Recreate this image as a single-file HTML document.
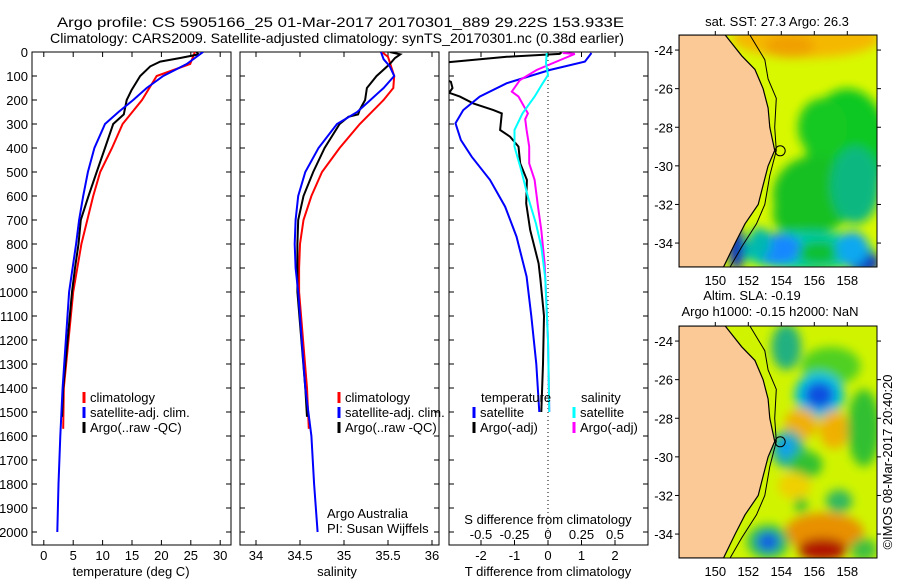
<!DOCTYPE html>
<html><head><meta charset="utf-8"><style>
html,body{margin:0;padding:0;background:#fff;}
svg{display:block;font-family:"Liberation Sans",Arial,sans-serif;}
</style></head><body>
<svg id="fig" width="900" height="580" viewBox="0 0 900 580" xmlns="http://www.w3.org/2000/svg">
<defs>
<clipPath id="c1"><rect x="32" y="52" width="199" height="493"/></clipPath>
<clipPath id="c2"><rect x="240" y="52" width="199" height="493"/></clipPath>
<clipPath id="c3"><rect x="449" y="52" width="199" height="493"/></clipPath>
<clipPath id="cm1"><rect x="679" y="35" width="198" height="232"/></clipPath>
<clipPath id="cm2"><rect x="679" y="326" width="198" height="232"/></clipPath>
<filter id="blur" x="-20%" y="-20%" width="140%" height="140%"><feGaussianBlur stdDeviation="5"/></filter>
</defs>
<text x="57" y="27" font-size="14" textLength="567" lengthAdjust="spacingAndGlyphs">Argo profile: CS 5905166_25 01-Mar-2017 20170301_889 29.22S 153.933E</text>
<text x="50" y="43" font-size="14" textLength="574" lengthAdjust="spacingAndGlyphs">Climatology: CARS2009. Satellite-adjusted climatology: synTS_20170301.nc (0.38d earlier)</text>
<g id="g1"></g>
<g id="g2"></g>
<g id="g3"></g>
<g id="m1"></g>
<g id="m2"></g>
<text x="777" y="26" font-size="13" text-anchor="middle">sat. SST: 27.3 Argo: 26.3</text>
<text x="752" y="300" font-size="13" text-anchor="middle">Altim. SLA: -0.19</text>
<text x="770" y="316" font-size="13" text-anchor="middle">Argo h1000: -0.15 h2000: NaN</text>
<text transform="translate(892,462) rotate(-90)" font-size="13" text-anchor="middle">©IMOS 08-Mar-2017 20:40:20</text>
<text x="327" y="518" font-size="13">Argo Australia</text>
<text x="327" y="533" font-size="13">PI: Susan Wijffels</text>
</svg>
<script>
// ---- data ----
const tClimDepth=[0,50,100,200,300,400,500,600,700,800,900,1000,1400,1570];
const tClimVal=[25.7,24.9,19.2,16.7,13.4,11.6,9.6,8.4,7.4,6.4,5.7,5.0,3.4,3.3];
const tSatDepth=[0,50,100,150,200,250,300,400,500,600,700,800,900,1000,1400,1600,1800,2000];
const tSatVal=[27.1,24.3,20.3,17.5,15.2,12.7,10.4,8.6,7.5,6.7,6.0,5.5,4.9,4.3,3.2,2.8,2.5,2.3];
const tArgoDepth=[0,10,25,40,60,100,160,200,260,300,400,500,600,700,800,900,1000,1400,1520];
const tArgoVal=[26.0,26.3,23.2,19.8,18.1,16.4,14.9,14.1,13.6,11.8,10.4,9.0,7.6,6.3,5.9,5.3,4.8,3.3,3.1];
const sClimDepth=[0,20,100,150,200,300,400,500,600,700,800,900,1000,1400,1570];
const sClimVal=[35.43,35.5,35.57,35.56,35.45,35.18,34.95,34.75,34.63,34.54,34.50,34.49,34.49,34.58,34.6];
const sSatDepth=[0,30,60,100,150,200,250,300,400,500,600,700,800,900,1000,1400,1600,1800,2000];
const sSatVal=[35.42,35.45,35.52,35.57,35.45,35.30,35.15,34.92,34.71,34.56,34.48,34.45,34.44,34.45,34.48,34.56,34.63,34.66,34.7];
const sArgoDepth=[0,10,25,50,100,150,200,240,260,270,300,400,500,600,700,800,900,1000,1400,1520];
const sArgoVal=[35.52,35.64,35.58,35.52,35.37,35.26,35.24,35.18,35.16,35.05,34.95,34.78,34.65,34.54,34.48,34.47,34.47,34.47,34.56,34.58];
const dtSatDepth=[4,40,75,130,186,242,297,367,436,533,644,769,936,1100,1300,1500];
const dtSatVal=[1.3,1.1,0.05,-1.23,-2.04,-2.53,-2.76,-2.6,-2.28,-1.73,-1.28,-0.94,-0.64,-0.5,-0.35,-0.26];
const dtArgoDepth=[2,8,20,42,80,124,150,170,186,214,242,256,325,353,394,464,533,631,742,881,943,1100,1300,1500];
const dtArgoVal=[0.4,0.35,-1.23,-2.95,-3.6,-2.9,-2.85,-2.95,-2.63,-2.23,-1.63,-1.38,-1.43,-1.13,-0.88,-0.83,-0.63,-0.65,-0.53,-0.28,-0.23,-0.12,-0.15,-0.2];
const dsSatDepth=[4,47,96,131,186,256,325,394,492,603,714,811,943,1200,1500];
const dsSatVal=[-0.01,-0.015,0,-0.04,-0.1,-0.19,-0.25,-0.25,-0.2,-0.15,-0.09,-0.05,-0.02,0,0.01];
const dsArgoDepth=[4,8,29,75,117,165,186,256,280,325,394,464,533,644,742,881,943,1200,1500];
const dsArgoVal=[0.11,0.2,0.11,-0.085,-0.21,-0.27,-0.22,-0.15,-0.17,-0.16,-0.14,-0.14,-0.1,-0.075,-0.05,-0.025,-0.02,0,0.01];
const depthTicks=[0,100,200,300,400,500,600,700,800,900,1000,1100,1200,1300,1400,1500,1600,1700,1800,1900,2000];
const tTicks=[0,5,10,15,20,25,30];
const sTicks=[34,34.5,35,35.5,36];
const sTickLabels=["34","34.5","35","35.5","36"];
const dTTicks=[-2,-1,0,1,2];
const dSTicks=[-0.5,-0.25,0,0.25,0.5];
const dSTickLabels=["-0.5","-0.25","0","0.25","0.5"];
const lonTicks=[150,152,154,156,158];
const latTicks=[-24,-26,-28,-30,-32,-34];
// ---- scales ----
const NS="http://www.w3.org/2000/svg";
const yD=d=>52+d*0.24;
const xTemp=v=>43.8+v*5.88;
const xSal=v=>256+(v-34)*88;
const xDT=v=>548+v*33.5;
const xDS=v=>548+v*134;
function mk(tag,attrs,parent){const e=document.createElementNS(NS,tag);for(const k in attrs)e.setAttribute(k,attrs[k]);parent.appendChild(e);return e;}
function txt(s,attrs,parent){const e=mk('text',attrs,parent);e.textContent=s;return e;}
function line(depths,vals,xf,color,parent,clip){
  let d='';depths.forEach((dp,i)=>{d+=(i?'L':'M')+xf(vals[i]).toFixed(1)+','+yD(dp).toFixed(1);});
  return mk('path',{d:d,fill:'none',stroke:color,'stroke-width':2,'clip-path':'url(#'+clip+')'},parent);
}
function frame(g,x0,name){
  const r=mk('rect',{x:x0,y:52,width:199,height:493,fill:'#fff',stroke:'#000','stroke-width':1},g);
  
  
  depthTicks.forEach(d=>{
    const t1=mk('line',{x1:x0,x2:x0+5,y1:yD(d),y2:yD(d),stroke:'#000'},g);
    
    
    const t2=mk('line',{x1:x0+199-5,x2:x0+199,y1:yD(d),y2:yD(d),stroke:'#000'},g);
    
    
  });
}
function xticks(g,vals,labels,xf,ly){
  vals.forEach((v,i)=>{
    const x=xf(v);
    const a=mk('line',{x1:x,x2:x,y1:52,y2:57,stroke:'#000'},g);
    
    
    const b=mk('line',{x1:x,x2:x,y1:540,y2:545,stroke:'#000'},g);
    
    
    if(labels){const t=txt(labels[i],{x:x,y:ly,'font-size':13,'text-anchor':'middle'},g);
    
    }
  });
}
function legend(g,x,y,color,label){
  const b=mk('line',{x1:x,x2:x,y1:y-10,y2:y+1,stroke:color,'stroke-width':3},g);
  
  
  const t=txt(label,{x:x+6,y:y,'font-size':13},g);
  
  
}
// ---- panel 1 ----
const g1=document.getElementById('g1');
frame(g1,32,'temperature-panel');
depthTicks.forEach(d=>{const t=txt(String(d),{x:28,y:yD(d)+5,'font-size':13,'text-anchor':'end'},g1);

});
xticks(g1,tTicks,tTicks.map(String),xTemp,560);
let p;
p=line(tClimDepth,tClimVal,xTemp,'#ff0000',g1,'c1');


p=line(tArgoDepth,tArgoVal,xTemp,'#000000',g1,'c1');


p=line(tSatDepth,tSatVal,xTemp,'#0000ff',g1,'c1');


legend(g1,84,402,'#ff0000','climatology');
legend(g1,84,417,'#0000ff','satellite-adj. clim.');
legend(g1,84,432,'#000000','Argo(..raw -QC)');
p=txt('temperature (deg C)',{x:131,y:576,'font-size':13,'text-anchor':'middle'},g1);


// ---- panel 2 ----
const g2=document.getElementById('g2');
frame(g2,240,'salinity-panel');
xticks(g2,sTicks,sTickLabels,xSal,560);
p=line(sClimDepth,sClimVal,xSal,'#ff0000',g2,'c2');


p=line(sArgoDepth,sArgoVal,xSal,'#000000',g2,'c2');


p=line(sSatDepth,sSatVal,xSal,'#0000ff',g2,'c2');


legend(g2,339,402,'#ff0000','climatology');
legend(g2,339,417,'#0000ff','satellite-adj. clim.');
legend(g2,339,432,'#000000','Argo(..raw -QC)');
p=txt('salinity',{x:337,y:576,'font-size':13,'text-anchor':'middle'},g2);


// ---- panel 3 ----
const g3=document.getElementById('g3');
frame(g3,449,'difference-panel');
p=mk('line',{x1:xDT(0),x2:xDT(0),y1:52,y2:545,stroke:'#000','stroke-dasharray':'1,3'},g3);


xticks(g3,dTTicks,dTTicks.map(String),xDT,560);
dSTicks.forEach((v,i)=>{const t=txt(dSTickLabels[i],{x:xDS(v),y:539,'font-size':13,'text-anchor':'middle'},g3);

});
p=txt('S difference from climatology',{x:548,y:524,'font-size':13,'text-anchor':'middle'},g3);


p=line(dtArgoDepth,dtArgoVal,xDT,'#000000',g3,'c3');


p=line(dtSatDepth,dtSatVal,xDT,'#0000ff',g3,'c3');


p=line(dsArgoDepth,dsArgoVal,xDS,'#ff00ff',g3,'c3');


p=line(dsSatDepth,dsSatVal,xDS,'#00ffff',g3,'c3');


p=txt('temperature',{x:481,y:402,'font-size':13},g3);


p=txt('salinity',{x:581,y:402,'font-size':13},g3);


legend(g3,474,417,'#0000ff','satellite');
legend(g3,474,432,'#000000','Argo(-adj)');
legend(g3,574,417,'#00ffff','satellite');
legend(g3,574,432,'#ff00ff','Argo(-adj)');
p=txt('T difference from climatology',{x:548,y:576,'font-size':13,'text-anchor':'middle'},g3);


// ---- maps ----
const mx=lon=>679+(lon-147.8)*16.5;
const my=(lat,off)=>off+35+(-23.22-lat)*19.3;
const coast=[[150.6,-23.22],[151.6,-24.3],[152.4,-25],[152.9,-26],[153.2,-27],[153.3,-28],[153.6,-29.2],[153.2,-30],[152.9,-31],[152.6,-32],[151.8,-33],[151.2,-34],[150.5,-35.24]];
const shelf=[[152.1,-23.22],[153,-24.5],[153.2,-25.5],[153.7,-26.5],[153.6,-28],[153.7,-29.2],[153.3,-30.5],[153,-32],[152.5,-33],[151.6,-34.2],[150.9,-35.24]];
function blob(g,lon,lat,rx,ry,color,off){return mk('ellipse',{cx:mx(lon),cy:my(lat,off),rx:rx*16.5,ry:ry*19.3,fill:color},g);}
function buildMap(id,off,clip,base,blobs){
  const g=document.getElementById(id);
  const inner=mk('g',{'clip-path':'url(#'+clip+')'},g);
  const r=mk('rect',{x:679,y:35+off,width:198,height:232,fill:base},inner);
  
  
  const bg=mk('g',{filter:'url(#blur)'},inner);
  blobs.forEach(b=>{const e=blob(bg,b[0],b[1],b[2],b[3],b[4],off);
  
  });
  let d='M679,'+(35+off);
  coast.forEach(c=>{d+='L'+mx(c[0]).toFixed(1)+','+my(c[1],off).toFixed(1);});
  d+='L679,'+(267+off)+'Z';
  const land=mk('path',{d:d,fill:'#fbc995',stroke:'#000','stroke-width':1.2},inner);
  
  
  let s='';shelf.forEach((c,i)=>{s+=(i?'L':'M')+mx(c[0]).toFixed(1)+','+my(c[1],off).toFixed(1);});
  const sh=mk('path',{d:s,fill:'none',stroke:'#000','stroke-width':1},inner);
  
  
  const ci=mk('circle',{cx:mx(153.933),cy:my(-29.22,off),r:5,fill:'none',stroke:'#000'},inner);
  
  
  const fr=mk('rect',{x:679,y:35+off,width:198,height:232,fill:'none',stroke:'#000'},g);
  
  
  lonTicks.forEach(v=>{const x=mx(v);
    const a=mk('line',{x1:x,x2:x,y1:35+off-4,y2:35+off,stroke:'#000'},g);
    
    
    const t=txt(String(v),{x:x,y:285+off,'font-size':13,'text-anchor':'middle'},g);
    
    });
  latTicks.forEach(v=>{const y=my(v,off);
    const a=mk('line',{x1:675,x2:679,y1:y,y2:y,stroke:'#000'},g);
    
    
    const b=mk('line',{x1:877,x2:881,y1:y,y2:y,stroke:'#000'},g);
    
    
    const t=txt(String(v),{x:673,y:y+5,'font-size':13,'text-anchor':'end'},g);
    
    });
}
buildMap('m1',0,'cm1','#d8f800',[
 [155.5,-23.4,4.5,1.0,'#f5b800'],[154.5,-23.8,1.5,0.6,'#f0a000'],
 [158,-29,2.5,3,'#10c820'],[156.5,-28,1.5,1.5,'#18c820'],[156,-31.5,2.5,2,'#18c020'],
 [154.5,-32.5,1,1,'#18c020'],[158.5,-31,1.5,2,'#10b880'],
 [155.5,-34.4,4,1,'#00c8a8'],[153.8,-34.3,1.5,0.8,'#1888ff'],[156.3,-34.5,1.3,0.6,'#10c030'],
 [159,-35,1,0.6,'#0838c0'],[158.3,-34.3,1,0.9,'#10a8f0'],[151.3,-34.3,0.5,1.1,'#1030c0'],[152.7,-34,0.7,0.8,'#00b8b0']]);
buildMap('m2',291,'cm2','#d0f400',[
 [154.3,-24.3,0.9,1.2,'#20b080'],[157,-25.3,1.8,1,'#50d020'],[156.3,-26.8,1.5,1.2,'#00c0e0'],
 [156.3,-26.8,0.9,0.7,'#1050e0'],[155.2,-28.3,1,0.8,'#f0b000'],[157.2,-28.6,0.9,1,'#f0b000'],
 [159,-28.5,1,2,'#30c030'],[154.4,-29.6,1,1,'#20b0a0'],[154.3,-29.5,0.5,0.5,'#10a0f0'],
 [155.5,-30.4,1,0.7,'#30c030'],[154.8,-31.5,1,0.7,'#f0d000'],[157.5,-32.3,0.8,0.6,'#30b860'],
 [155.2,-32.5,0.4,0.4,'#30c030'],[156.6,-33.9,2.4,1,'#e89000'],[156.5,-34.8,1.5,0.6,'#b01800'],
 [153.2,-34.4,1.3,0.9,'#30c050'],[153.2,-34.4,0.7,0.5,'#1060e0'],[159,-34.8,0.8,0.6,'#40c040']]);
</script>
</body></html>
